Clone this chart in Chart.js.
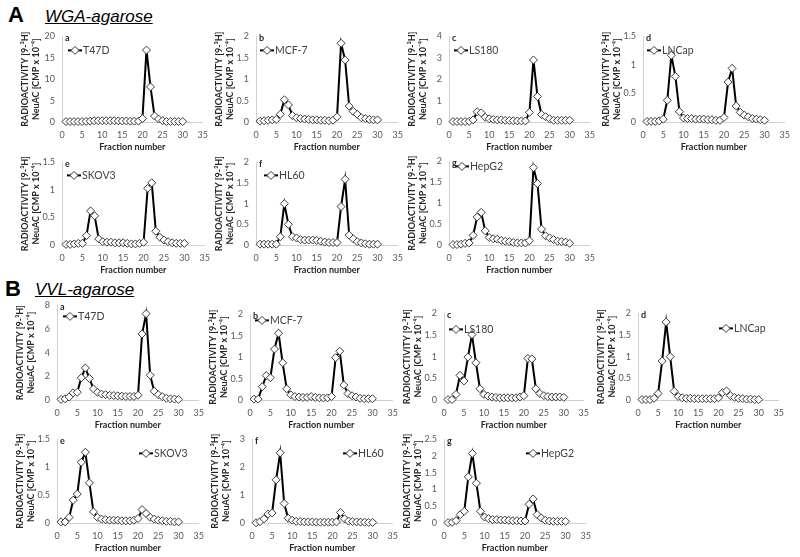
<!DOCTYPE html>
<html>
<head>
<meta charset="utf-8">
<script src="https://cdn.jsdelivr.net/npm/chart.js@4.4.1/dist/chart.umd.min.js"></script>
<style>
  body { margin: 0; background: #fff; }
  #page { position: relative; width: 800px; height: 557px; overflow: hidden; }
  #page canvas { position: absolute; }
  .panel { position: absolute; font-family: 'Liberation Sans', Arial, sans-serif; font-weight: bold; font-size: 22px; line-height: 22px; color: #000; }
  .lectin { position: absolute; font-family: 'Liberation Sans', Arial, sans-serif; font-style: italic; font-size: 17px; line-height: 17px; text-decoration: underline; color: #000; }
</style>
</head>
<body>
<div id="page">
  <div class="panel" style="left:8px;top:4px">A</div>
  <div class="lectin" style="left:45px;top:8px">WGA-agarose</div>
  <div class="panel" style="left:5px;top:278px">B</div>
  <div class="lectin" style="left:35px;top:281px">VVL-agarose</div>
</div>
<script>
const fractions = [1,2,3,4,5,6,7,8,9,10,11,12,13,14,15,16,17,18,19,20,21,22,23,24,25,26,27,28,29,30];

// A: WGA-agarose
const wgaT47D  = [0.1,0.1,0.1,0.1,0.1,0.15,0.2,0.3,0.3,0.3,0.3,0.3,0.3,0.25,0.25,0.25,0.2,0.2,0.2,0.8,16.8,8.2,1.4,0.7,0.3,0.1,0.1,0.1,0.1,0.1];
const wgaMCF7  = [0.02,0.03,0.04,0.05,0.06,0.18,0.52,0.4,0.15,0.1,0.08,0.07,0.06,0.05,0.05,0.04,0.04,0.03,0.04,0.12,1.84,1.45,0.37,0.25,0.18,0.1,0.08,0.06,0.05,0.05];
const wgaLS180 = [0.02,0.02,0.02,0.02,0.03,0.1,0.48,0.43,0.22,0.15,0.12,0.1,0.1,0.08,0.07,0.06,0.05,0.05,0.05,0.45,2.9,1.19,0.35,0.25,0.15,0.08,0.08,0.08,0.08,0.08];
const wgaLNCap = [0.01,0.01,0.01,0.02,0.05,0.38,1.17,0.8,0.18,0.07,0.06,0.06,0.05,0.05,0.05,0.04,0.04,0.03,0.03,0.08,0.7,0.94,0.28,0.17,0.12,0.09,0.06,0.05,0.04,0.03];
const wgaSKOV3 = [0.01,0.01,0.02,0.03,0.03,0.17,0.62,0.53,0.11,0.06,0.05,0.05,0.04,0.04,0.04,0.03,0.02,0.02,0.03,0.05,1.03,1.13,0.25,0.14,0.09,0.06,0.04,0.03,0.03,0.03];
const wgaHL60  = [0.02,0.02,0.02,0.02,0.02,0.2,1.0,0.5,0.2,0.17,0.13,0.12,0.12,0.12,0.11,0.09,0.07,0.06,0.06,0.06,0.93,1.59,0.24,0.15,0.08,0.05,0.03,0.02,0.02,0.02];
const wgaHepG2 = [0.01,0.01,0.02,0.04,0.05,0.23,0.67,0.78,0.34,0.18,0.15,0.14,0.11,0.09,0.08,0.06,0.05,0.05,0.05,0.1,1.85,1.47,0.38,0.22,0.17,0.13,0.09,0.08,0.07,0.04];

// B: VVL-agarose
const vvlT47D  = [0.05,0.1,0.25,0.6,0.65,1.88,2.71,1.83,0.94,0.65,0.5,0.45,0.4,0.38,0.35,0.33,0.3,0.3,0.3,0.4,5.58,7.3,2.09,0.75,0.45,0.28,0.15,0.1,0.08,0.05];
const vvlMCF7  = [0.02,0.02,0.31,0.57,0.52,1.19,1.56,0.87,0.26,0.12,0.08,0.07,0.06,0.06,0.08,0.06,0.05,0.05,0.05,0.08,0.99,1.14,0.35,0.15,0.1,0.07,0.04,0.03,0.03,0.03];
const vvlLS180 = [0.01,0.01,0.13,0.57,0.44,0.99,1.51,0.86,0.26,0.13,0.09,0.07,0.06,0.05,0.05,0.05,0.05,0.05,0.07,0.1,0.96,0.95,0.26,0.15,0.1,0.08,0.07,0.07,0.07,0.06];
const vvlLNCap = [0.01,0.01,0.01,0.04,0.15,0.9,1.8,1.0,0.2,0.08,0.05,0.04,0.04,0.03,0.03,0.03,0.03,0.03,0.03,0.05,0.17,0.21,0.1,0.06,0.04,0.03,0.02,0.02,0.01,0.01];
const vvlSKOV3 = [0.02,0.02,0.1,0.41,0.52,1.09,1.27,0.72,0.2,0.1,0.07,0.06,0.05,0.05,0.05,0.04,0.04,0.04,0.05,0.08,0.24,0.17,0.1,0.07,0.05,0.04,0.03,0.03,0.02,0.02];
const vvlHL60  = [0.01,0.05,0.15,0.32,0.36,1.55,2.52,0.7,0.17,0.1,0.06,0.05,0.04,0.04,0.04,0.03,0.03,0.03,0.03,0.03,0.04,0.38,0.15,0.07,0.05,0.04,0.03,0.03,0.02,0.02];
const vvlHepG2 = [0.01,0.02,0.07,0.25,0.35,1.38,2.08,1.19,0.35,0.18,0.13,0.1,0.1,0.09,0.09,0.08,0.07,0.07,0.06,0.06,0.56,0.72,0.25,0.15,0.08,0.06,0.05,0.05,0.05,0.05];

const yTitle = ['RADIOACTIVITY [9-³H]', 'NeuAC [CMP x 10⁻⁴]'];
const xTitle = 'Fraction number';

// box = [x of 0, x of 35, top, bottom] in page pixels, leg = legend offset from plot corner
const charts = [
  {tag: 'a', label: 'T47D',  values: wgaT47D,  yMax: 20,  yStep: 5,   box: [62, 208, 32, 122],  leg: [6, 14]},
  {tag: 'b', label: 'MCF-7', values: wgaMCF7,  yMax: 2,   yStep: 0.5, box: [256, 403, 32, 122], leg: [4, 14]},
  {tag: 'c', label: 'LS180', values: wgaLS180, yMax: 4,   yStep: 1,   box: [449, 595, 32, 122], leg: [5, 14]},
  {tag: 'd', label: 'LNCap', values: wgaLNCap, yMax: 1.5, yStep: 0.5, box: [643, 790, 32, 122], leg: [4, 14]},
  {tag: 'e', label: 'SKOV3', values: wgaSKOV3, yMax: 1.5, yStep: 0.5, box: [62, 210, 158, 245], leg: [5, 13]},
  {tag: 'f', label: 'HL60',  values: wgaHL60,  yMax: 2,   yStep: 0.5, box: [256, 403, 158, 245], leg: [8, 13]},
  {tag: 'g', label: 'HepG2', values: wgaHepG2, yMax: 2,   yStep: 0.5, box: [449, 595, 157, 245], leg: [6, 5]},
  {tag: 'a', label: 'T47D',  values: vvlT47D,  yMax: 8,   yStep: 2,   box: [57, 204, 301, 400], leg: [6, 11]},
  {tag: 'b', label: 'MCF-7', values: vvlMCF7,  yMax: 2,   yStep: 0.5, box: [250, 398, 310, 400], leg: [5, 6]},
  {tag: 'c', label: 'LS180', values: vvlLS180, yMax: 2,   yStep: 0.5, box: [444, 589, 309, 400], leg: [5, 16]},
  {tag: 'd', label: 'LNCap', values: vvlLNCap, yMax: 2,   yStep: 0.5, box: [638, 784, 309, 400], leg: [81, 15]},
  {tag: 'e', label: 'SKOV3', values: vvlSKOV3, yMax: 1.5, yStep: 0.5, box: [57, 204, 435, 523], leg: [82, 14]},
  {tag: 'f', label: 'HL60',  values: vvlHL60,  yMax: 3,   yStep: 1,   box: [252, 398, 435, 523], leg: [91, 14]},
  {tag: 'g', label: 'HepG2', values: vvlHepG2, yMax: 2.5, yStep: 0.5, box: [444, 591, 435, 523], leg: [82, 14]}
];

const Y_AXIS_W = 46, X_AXIS_H = 30, PAD_R = 8, PAD_T = 8;
const FONT = "Lato, 'Liberation Sans', sans-serif";

// excel style legend (line + diamond) and the small panel letter, inside the plot
const excelLegend = {
  id: 'excelLegend',
  afterDatasetsDraw(chart, args, opts) {
    const {ctx, chartArea} = chart;
    const ds = chart.data.datasets[0];
    const x = chartArea.left + opts.x, y = chartArea.top + opts.y;
    ctx.save();
    ctx.strokeStyle = '#000';
    ctx.lineWidth = 2;
    ctx.beginPath();
    ctx.moveTo(x, y);
    ctx.lineTo(x + 14, y);
    ctx.stroke();
    ctx.fillStyle = '#fff';
    ctx.strokeStyle = '#3a3a3a';
    ctx.lineWidth = 1;
    Chart.helpers.drawPoint(ctx, {pointStyle: 'rectRot', radius: 4, borderWidth: 1, rotation: 0}, x + 7, y);
    ctx.fillStyle = '#404040';
    ctx.font = '10.5px ' + FONT;
    ctx.textBaseline = 'middle';
    ctx.fillText(ds.label, x + 15, y);
    ctx.fillStyle = '#262626';
    ctx.font = 'bold 9px ' + FONT;
    ctx.fillText(opts.tag, chartArea.left + 3, chartArea.top + 2);
    ctx.restore();
  }
};

// "2", "1.5", "1" rather than "2.0", "1.0"
const plainNumber = v => String(+v.toFixed(2));

const page = document.getElementById('page');

charts.forEach(c => {
  const [x0, x1, top, bottom] = c.box;
  const cv = document.createElement('canvas');
  cv.width = x1 - x0 + Y_AXIS_W + PAD_R;
  cv.height = bottom - top + PAD_T + X_AXIS_H;
  cv.style.left = (x0 - Y_AXIS_W) + 'px';
  cv.style.top = (top - PAD_T) + 'px';
  page.appendChild(cv);

  new Chart(cv, {
    type: 'line',
    data: {
      datasets: [{
        label: c.label,
        data: fractions.map((f, i) => ({x: f, y: c.values[i]})),
        borderColor: '#000',
        borderWidth: 2,
        pointStyle: 'rectRot',
        pointRadius: 4,
        pointBackgroundColor: '#fff',
        pointBorderColor: '#3a3a3a',
        pointBorderWidth: 1,
        tension: 0,
        clip: false
      }]
    },
    options: {
      responsive: false,
      animation: false,
      layout: {padding: {top: PAD_T, right: PAD_R, left: 0, bottom: 0}},
      plugins: {
        legend: {display: false},
        tooltip: {enabled: false},
        excelLegend: {tag: c.tag, x: c.leg[0], y: c.leg[1]}
      },
      scales: {
        x: {
          type: 'linear', min: 0, max: 35,
          ticks: {stepSize: 5, color: '#595959', font: {family: FONT, size: 9}, padding: 8, maxRotation: 0, callback: plainNumber},
          grid: {display: false, drawTicks: false},
          border: {color: '#d0d0d0'},
          title: {display: true, text: xTitle, color: '#262626', font: {family: FONT, size: 9, weight: 'bold'}, padding: 0},
          afterFit: s => { s.height = X_AXIS_H; }
        },
        y: {
          min: 0, max: c.yMax,
          ticks: {stepSize: c.yStep, color: '#595959', font: {family: FONT, size: 9}, padding: 7, callback: plainNumber},
          grid: {display: false, drawTicks: false},
          border: {color: '#d0d0d0'},
          title: {display: true, text: yTitle, color: '#262626', font: {family: FONT, size: 9, weight: 'bold', lineHeight: 1.25}, padding: {top: 3, bottom: 0}},
          afterFit: s => { s.width = Y_AXIS_W; }
        }
      }
    },
    plugins: [excelLegend]
  });
});
</script>
</body>
</html>
